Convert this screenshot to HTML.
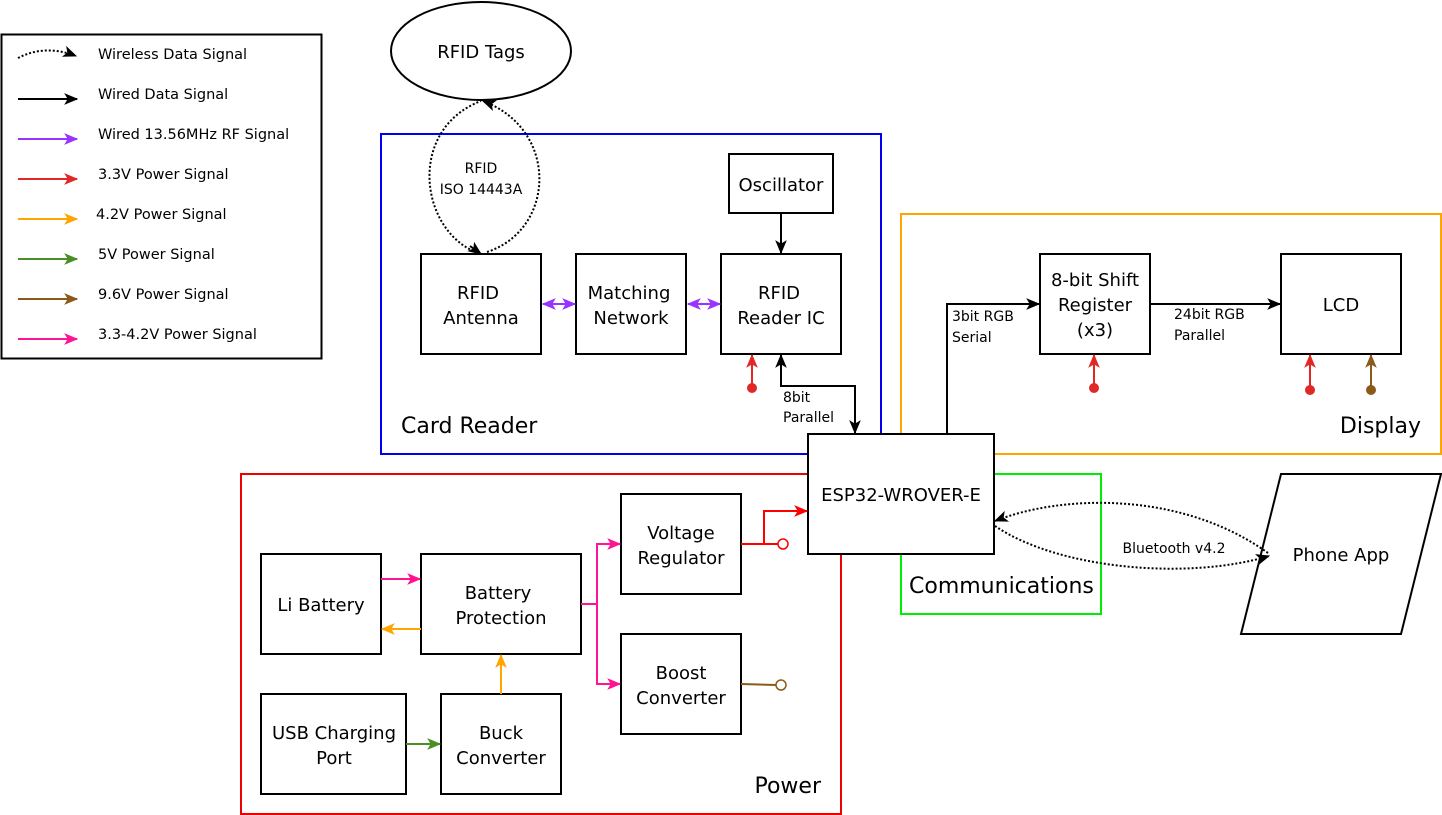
<!DOCTYPE html>
<html><head><meta charset="utf-8"><style>
body{margin:0;background:#fff}
svg{display:block}
text{font-family:"DejaVu Sans","Liberation Sans",sans-serif;fill:#000}
.b{font-size:18px}
.s{font-size:14px}
.l{font-size:14.5px}
.g{font-size:22px}
</style></head><body>
<svg width="1442" height="815" viewBox="0 0 1442 815" xmlns="http://www.w3.org/2000/svg">
<defs>
<marker id="mk" viewBox="0 0 12 12" refX="11" refY="6" markerWidth="14" markerHeight="14" markerUnits="userSpaceOnUse" orient="auto-start-reverse"><path d="M0,1 L12,6 L0,11 L3,6 Z" fill="#000"/></marker>
<marker id="mp" viewBox="0 0 12 12" refX="11" refY="6" markerWidth="14" markerHeight="14" markerUnits="userSpaceOnUse" orient="auto-start-reverse"><path d="M0,1 L12,6 L0,11 L3,6 Z" fill="#9933ff"/></marker>
<marker id="mr" viewBox="0 0 12 12" refX="11" refY="6" markerWidth="14" markerHeight="14" markerUnits="userSpaceOnUse" orient="auto-start-reverse"><path d="M0,1 L12,6 L0,11 L3,6 Z" fill="#e02828"/></marker>
<marker id="mR" viewBox="0 0 12 12" refX="11" refY="6" markerWidth="14" markerHeight="14" markerUnits="userSpaceOnUse" orient="auto-start-reverse"><path d="M0,1 L12,6 L0,11 L3,6 Z" fill="#ff0000"/></marker>
<marker id="mo" viewBox="0 0 12 12" refX="11" refY="6" markerWidth="14" markerHeight="14" markerUnits="userSpaceOnUse" orient="auto-start-reverse"><path d="M0,1 L12,6 L0,11 L3,6 Z" fill="#ffa500"/></marker>
<marker id="mg" viewBox="0 0 12 12" refX="11" refY="6" markerWidth="14" markerHeight="14" markerUnits="userSpaceOnUse" orient="auto-start-reverse"><path d="M0,1 L12,6 L0,11 L3,6 Z" fill="#4a8f25"/></marker>
<marker id="mb" viewBox="0 0 12 12" refX="11" refY="6" markerWidth="14" markerHeight="14" markerUnits="userSpaceOnUse" orient="auto-start-reverse"><path d="M0,1 L12,6 L0,11 L3,6 Z" fill="#8b5a1b"/></marker>
<marker id="mm" viewBox="0 0 12 12" refX="11" refY="6" markerWidth="14" markerHeight="14" markerUnits="userSpaceOnUse" orient="auto-start-reverse"><path d="M0,1 L12,6 L0,11 L3,6 Z" fill="#ff1493"/></marker>
</defs>

<!-- Legend -->
<rect x="1.5" y="34.5" width="320" height="324" fill="none" stroke="#000" stroke-width="2"/>
<path d="M18,58 Q45,44 76,56" fill="none" stroke="#000" stroke-width="2" stroke-dasharray="2,2" marker-end="url(#mk)"/>
<line x1="18" y1="99" x2="77" y2="99" stroke="#000" stroke-width="2" marker-end="url(#mk)"/>
<line x1="18" y1="139" x2="77" y2="139" stroke="#9933ff" stroke-width="2" marker-end="url(#mp)"/>
<line x1="18" y1="179" x2="77" y2="179" stroke="#e02828" stroke-width="2" marker-end="url(#mr)"/>
<line x1="18" y1="219" x2="77" y2="219" stroke="#ffa500" stroke-width="2" marker-end="url(#mo)"/>
<line x1="18" y1="259" x2="77" y2="259" stroke="#4a8f25" stroke-width="2" marker-end="url(#mg)"/>
<line x1="18" y1="299" x2="77" y2="299" stroke="#8b5a1b" stroke-width="2" marker-end="url(#mb)"/>
<line x1="18" y1="339" x2="77" y2="339" stroke="#ff1493" stroke-width="2" marker-end="url(#mm)"/>
<text class="l" x="98" y="59">Wireless Data Signal</text>
<text class="l" x="98" y="99">Wired Data Signal</text>
<text class="l" x="98" y="139">Wired 13.56MHz RF Signal</text>
<text class="l" x="98" y="179">3.3V Power Signal</text>
<text class="l" x="96" y="219">4.2V Power Signal</text>
<text class="l" x="98" y="259">5V Power Signal</text>
<text class="l" x="98" y="299">9.6V Power Signal</text>
<text class="l" x="98" y="339">3.3-4.2V Power Signal</text>

<!-- Group boxes -->
<rect x="381" y="134" width="500" height="320" fill="none" stroke="#0000ee" stroke-width="2"/>
<rect x="901" y="214" width="540" height="240" fill="none" stroke="#ffa500" stroke-width="2"/>
<rect x="901" y="474" width="200" height="140" fill="none" stroke="#00ee00" stroke-width="2"/>
<rect x="241" y="474" width="600" height="340" fill="none" stroke="#ee0000" stroke-width="2"/>
<text class="g" x="401" y="433">Card Reader</text>
<text class="g" x="1421" y="433" text-anchor="end">Display</text>
<text class="g" x="909" y="593">Communications</text>
<text class="g" x="821" y="793" text-anchor="end">Power</text>

<!-- RFID tags -->
<ellipse cx="481" cy="51" rx="90" ry="49" fill="#fff" stroke="#000" stroke-width="2"/>
<text class="b" x="481" y="58" text-anchor="middle">RFID Tags</text>
<path d="M481,254 C420,235 405,130 481,101" fill="none" stroke="#000" stroke-width="2" stroke-dasharray="2,2"/>
<path d="M487,252 C555,230 560,130 483,101" fill="none" stroke="#000" stroke-width="2" stroke-dasharray="2,2" marker-end="url(#mk)"/>
<path d="M470,246 L481,254" fill="none" stroke="#000" stroke-width="2" marker-end="url(#mk)"/>
<text class="s" x="481" y="173" text-anchor="middle">RFID</text>
<text class="s" x="481" y="194" text-anchor="middle">ISO 14443A</text>

<!-- Card reader boxes -->
<rect x="421" y="254" width="120" height="100" fill="#fff" stroke="#000" stroke-width="2"/>
<text class="b" x="478" y="299" text-anchor="middle">RFID</text>
<text class="b" x="481" y="324" text-anchor="middle">Antenna</text>
<rect x="576" y="254" width="110" height="100" fill="#fff" stroke="#000" stroke-width="2"/>
<text class="b" x="629" y="299" text-anchor="middle">Matching</text>
<text class="b" x="631" y="324" text-anchor="middle">Network</text>
<rect x="721" y="254" width="120" height="100" fill="#fff" stroke="#000" stroke-width="2"/>
<text class="b" x="779" y="299" text-anchor="middle">RFID</text>
<text class="b" x="781" y="324" text-anchor="middle">Reader IC</text>
<rect x="729" y="154" width="104" height="59" fill="#fff" stroke="#000" stroke-width="2"/>
<text class="b" x="781" y="191" text-anchor="middle">Oscillator</text>
<line x1="781" y1="213" x2="781" y2="253" stroke="#000" stroke-width="2" marker-end="url(#mk)"/>
<line x1="543" y1="304" x2="575" y2="304" stroke="#9933ff" stroke-width="2" marker-start="url(#mp)" marker-end="url(#mp)"/>
<line x1="688" y1="304" x2="720" y2="304" stroke="#9933ff" stroke-width="2" marker-start="url(#mp)" marker-end="url(#mp)"/>
<line x1="752" y1="388" x2="752" y2="355" stroke="#e02828" stroke-width="2" marker-end="url(#mr)"/>
<circle cx="752" cy="388" r="5" fill="#e02828"/>
<polyline points="781,355 781,386 855,386 855,433" fill="none" stroke="#000" stroke-width="2" marker-start="url(#mk)" marker-end="url(#mk)"/>
<text class="s" x="783" y="402">8bit</text>
<text class="s" x="783" y="422">Parallel</text>

<!-- ESP32 -->
<rect x="808" y="434" width="186" height="120" fill="#fff" stroke="#000" stroke-width="2"/>
<text class="b" x="901" y="501" text-anchor="middle">ESP32-WROVER-E</text>

<!-- Display -->
<rect x="1040" y="254" width="110" height="100" fill="#fff" stroke="#000" stroke-width="2"/>
<text class="b" x="1095" y="286" text-anchor="middle">8-bit Shift</text>
<text class="b" x="1095" y="311" text-anchor="middle">Register</text>
<text class="b" x="1095" y="336" text-anchor="middle">(x3)</text>
<rect x="1281" y="254" width="120" height="100" fill="#fff" stroke="#000" stroke-width="2"/>
<text class="b" x="1341" y="311" text-anchor="middle">LCD</text>
<polyline points="947,433 947,304 1039,304" fill="none" stroke="#000" stroke-width="2" marker-end="url(#mk)"/>
<text class="s" x="952" y="321">3bit RGB</text>
<text class="s" x="952" y="342">Serial</text>
<line x1="1150" y1="304" x2="1280" y2="304" stroke="#000" stroke-width="2" marker-end="url(#mk)"/>
<text class="s" x="1174" y="319">24bit RGB</text>
<text class="s" x="1174" y="340">Parallel</text>
<line x1="1094" y1="388" x2="1094" y2="355" stroke="#e02828" stroke-width="2" marker-end="url(#mr)"/>
<circle cx="1094" cy="388" r="5" fill="#e02828"/>
<line x1="1310" y1="390" x2="1310" y2="355" stroke="#e02828" stroke-width="2" marker-end="url(#mr)"/>
<circle cx="1310" cy="390" r="5" fill="#e02828"/>
<line x1="1371" y1="390" x2="1371" y2="355" stroke="#8b5a1b" stroke-width="2" marker-end="url(#mb)"/>
<circle cx="1371" cy="390" r="5" fill="#8b5a1b"/>

<!-- Phone app -->
<polygon points="1281,474 1441,474 1401,634 1241,634" fill="#fff" stroke="#000" stroke-width="2"/>
<text class="b" x="1341" y="561" text-anchor="middle">Phone App</text>
<path d="M1268,553 C1180,490 1060,495 995,521" fill="none" stroke="#000" stroke-width="2" stroke-dasharray="2,2" marker-end="url(#mk)"/>
<path d="M995,526 C1060,570 1190,580 1269,556" fill="none" stroke="#000" stroke-width="2" stroke-dasharray="2,2" marker-end="url(#mk)"/>
<text class="s" x="1174" y="553" text-anchor="middle">Bluetooth v4.2</text>

<!-- Power -->
<rect x="261" y="554" width="120" height="100" fill="#fff" stroke="#000" stroke-width="2"/>
<text class="b" x="321" y="611" text-anchor="middle">Li Battery</text>
<rect x="421" y="554" width="160" height="100" fill="#fff" stroke="#000" stroke-width="2"/>
<text class="b" x="498" y="599" text-anchor="middle">Battery</text>
<text class="b" x="501" y="624" text-anchor="middle">Protection</text>
<rect x="261" y="694" width="145" height="100" fill="#fff" stroke="#000" stroke-width="2"/>
<text class="b" x="334" y="739" text-anchor="middle">USB Charging</text>
<text class="b" x="334" y="764" text-anchor="middle">Port</text>
<rect x="441" y="694" width="120" height="100" fill="#fff" stroke="#000" stroke-width="2"/>
<text class="b" x="501" y="739" text-anchor="middle">Buck</text>
<text class="b" x="501" y="764" text-anchor="middle">Converter</text>
<rect x="621" y="494" width="120" height="100" fill="#fff" stroke="#000" stroke-width="2"/>
<text class="b" x="681" y="539" text-anchor="middle">Voltage</text>
<text class="b" x="681" y="564" text-anchor="middle">Regulator</text>
<rect x="621" y="634" width="120" height="100" fill="#fff" stroke="#000" stroke-width="2"/>
<text class="b" x="681" y="679" text-anchor="middle">Boost</text>
<text class="b" x="681" y="704" text-anchor="middle">Converter</text>

<line x1="381" y1="579" x2="420" y2="579" stroke="#ff1493" stroke-width="2" marker-end="url(#mm)"/>
<line x1="421" y1="629" x2="382" y2="629" stroke="#ffa500" stroke-width="2" marker-end="url(#mo)"/>
<line x1="501" y1="694" x2="501" y2="655" stroke="#ffa500" stroke-width="2" marker-end="url(#mo)"/>
<line x1="406" y1="744" x2="440" y2="744" stroke="#4a8f25" stroke-width="2" marker-end="url(#mg)"/>
<polyline points="581,604 597,604 597,544 620,544" fill="none" stroke="#ff1493" stroke-width="2" marker-end="url(#mm)"/>
<polyline points="597,604 597,684 620,684" fill="none" stroke="#ff1493" stroke-width="2" marker-end="url(#mm)"/>
<line x1="741" y1="544" x2="778" y2="544" stroke="#ff0000" stroke-width="2"/>
<circle cx="783" cy="544" r="5" fill="#fff" stroke="#ff0000" stroke-width="1.5"/>
<polyline points="764,544 764,511 807,511" fill="none" stroke="#ff0000" stroke-width="2" marker-end="url(#mR)"/>
<line x1="741" y1="684" x2="776" y2="685" stroke="#8b5a1b" stroke-width="2"/>
<circle cx="781" cy="685" r="5" fill="#fff" stroke="#8b5a1b" stroke-width="1.5"/>
</svg>
</body></html>
